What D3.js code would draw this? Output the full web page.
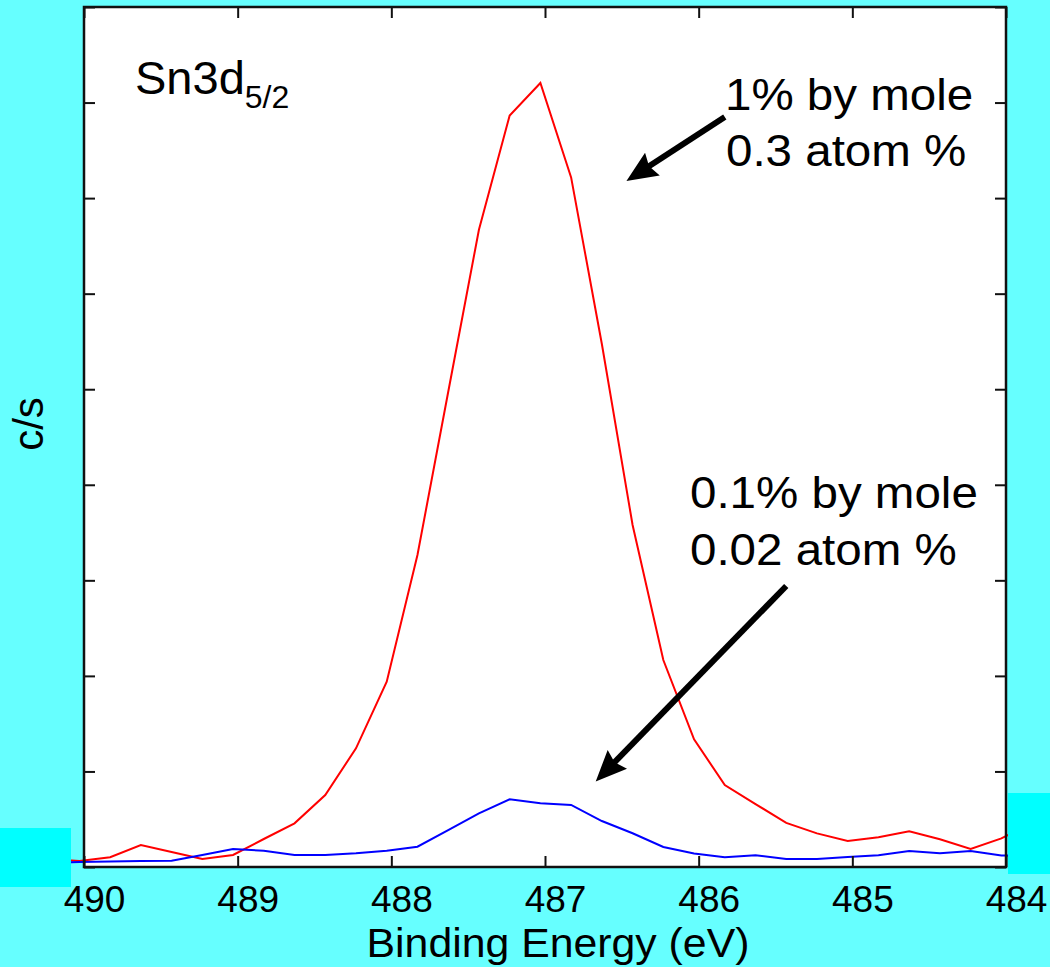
<!DOCTYPE html>
<html>
<head>
<meta charset="utf-8">
<script src="https://cdn.jsdelivr.net/npm/d3@7"></script>
<style>
  body { margin: 0; background: #66ffff; }
  svg { display: block; font-family: Arial, "Liberation Sans", sans-serif; }
</style>
</head>
<body>
<svg id="chart" width="1050" height="967"></svg>
<script>
// binding energy (eV), 0.2 eV steps
const energies = [490.23, 490.03, 489.83, 489.63, 489.43, 489.23, 489.03, 488.83, 488.63, 488.43, 488.23,
    488.03, 487.83, 487.63, 487.43, 487.23, 487.03, 486.83, 486.63, 486.43, 486.23, 486.03, 485.83,
    485.63, 485.43, 485.23, 485.03, 484.83, 484.63, 484.43, 484.23, 484.03, 483.83];

// 1% by mole (red)
const oneMole = [84, 63, 102, 230, 157, 84, 126, 293, 457, 753, 1242, 1939, 3265, 4971, 6669, 7865, 8205,
    7217, 5473, 3579, 2166, 1336, 858, 659, 462, 352, 272, 311, 374, 290, 188, 300, 460];

// 0.1% by mole (blue)
const tenthMole = [42, 52, 58, 63, 66, 126, 188, 171, 126, 126, 143, 171, 212, 387, 562, 708, 667,
    649, 481, 353, 209, 141, 102, 123, 84, 84, 105, 123, 167, 144, 167, 120, 120];

const xTicks = [490, 489, 488, 487, 486, 485, 484];
const yTicks = [0, 1000, 2000, 3000, 4000, 5000, 6000, 7000, 8000, 9000];

// arrows: [tail energy, tail c/s, tip energy, tip c/s]
const arrows = [
    [485.83, 7849, 486.47, 7179],
    [485.43, 2941, 486.67, 894]
];

const svg = d3.select("#chart");
const plotL = 84, plotT = 7, plotR = 1006, plotB = 867;

const x = d3.scaleLinear().domain([490, 484]).range([plotL, plotR]);
const y = d3.scaleLinear().domain([0, 9000]).range([plotB, plotT]);

svg.append("rect").attr("width", 1050).attr("height", 967).attr("fill", "#66ffff");
svg.append("rect").attr("x", plotL).attr("y", plotT).attr("width", plotR - plotL).attr("height", plotB - plotT).attr("fill", "#fff");

const line = d3.line().x(d => x(d[0])).y(d => y(d[1]));

svg.append("path")
    .datum(energies.map((e, i) => [e, oneMole[i]]))
    .attr("d", line).attr("fill", "none").attr("stroke", "#ff0000").attr("stroke-width", 2);

svg.append("path")
    .datum(energies.map((e, i) => [e, tenthMole[i]]))
    .attr("d", line).attr("fill", "none").attr("stroke", "#0000ff").attr("stroke-width", 2);

// bright cyan blocks from the slide
svg.append("rect").attr("x", 0).attr("y", 828).attr("width", 71).attr("height", 59).attr("fill", "#00ffff");
svg.append("rect").attr("x", 1008).attr("y", 793).attr("width", 42).attr("height", 81).attr("fill", "#00ffff");

// axes, ticks pointing inward
const tick = 11;
const styleAxis = g => {
    g.select(".domain").remove();
    g.selectAll(".tick line").attr("stroke", "#111").attr("stroke-width", 2);
};

svg.append("g").attr("transform", `translate(0,${plotB})`)
    .call(d3.axisBottom(x).tickValues(xTicks).tickSizeInner(-tick).tickSizeOuter(0).tickPadding(19).tickFormat(d3.format("d")))
    .call(styleAxis)
    .call(g => g.selectAll(".tick text").attr("dx", 10).attr("font-size", 37).attr("fill", "#000")
        .attr("font-family", "Arial, 'Liberation Sans', sans-serif"));

svg.append("g").attr("transform", `translate(0,${plotT})`)
    .call(d3.axisTop(x).tickValues(xTicks).tickSizeInner(-tick).tickSizeOuter(0).tickFormat(""))
    .call(styleAxis);

svg.append("g").attr("transform", `translate(${plotL},0)`)
    .call(d3.axisLeft(y).tickValues(yTicks).tickSizeInner(-tick).tickSizeOuter(0).tickFormat(""))
    .call(styleAxis);

svg.append("g").attr("transform", `translate(${plotR},0)`)
    .call(d3.axisRight(y).tickValues(yTicks).tickSizeInner(-tick).tickSizeOuter(0).tickFormat(""))
    .call(styleAxis);

svg.append("rect").attr("x", plotL).attr("y", plotT).attr("width", plotR - plotL).attr("height", plotB - plotT)
    .attr("fill", "none").attr("stroke", "#111").attr("stroke-width", 2.5);

// axis titles
svg.append("text")
    .attr("transform", "translate(558,957) scale(1.07,1)")
    .attr("text-anchor", "middle").attr("font-size", 40)
    .text("Binding Energy (eV)");

svg.append("text")
    .attr("transform", "translate(43,424) rotate(-90)")
    .attr("text-anchor", "middle").attr("font-size", 42)
    .text("c/s");

// peak label
const peak = svg.append("text").attr("x", 135).attr("y", 94).attr("font-size", 47);
peak.append("tspan").text("Sn3d");
peak.append("tspan").attr("dy", 14).attr("font-size", 32).text("5/2");

// annotations
const notes = [
    ["1% by mole", 725, 110],
    ["0.3 atom %", 726, 166],
    ["0.1% by mole", 690, 508],
    ["0.02 atom %", 690, 565]
];
notes.forEach(n => {
    svg.append("text")
        .attr("transform", `translate(${n[1]},${n[2]}) scale(1.08,1)`)
        .attr("font-size", 44)
        .text(n[0]);
});

arrows.forEach(a => {
    const x1 = x(a[0]), y1 = y(a[1]), x2 = x(a[2]), y2 = y(a[3]);
    const ang = Math.atan2(y2 - y1, x2 - x1);
    const len = Math.hypot(x2 - x1, y2 - y1);
    const g = svg.append("g").attr("transform", `translate(${x1},${y1}) rotate(${ang * 180 / Math.PI})`);
    g.append("line").attr("x1", 0).attr("y1", 0).attr("x2", len - 20).attr("y2", 0)
        .attr("stroke", "#000").attr("stroke-width", 6);
    g.append("path")
        .attr("d", `M${len},0 L${len - 31},-13.5 L${len - 27},0 L${len - 31},13.5 Z`)
        .attr("fill", "#000");
});
</script>
</body>
</html>
